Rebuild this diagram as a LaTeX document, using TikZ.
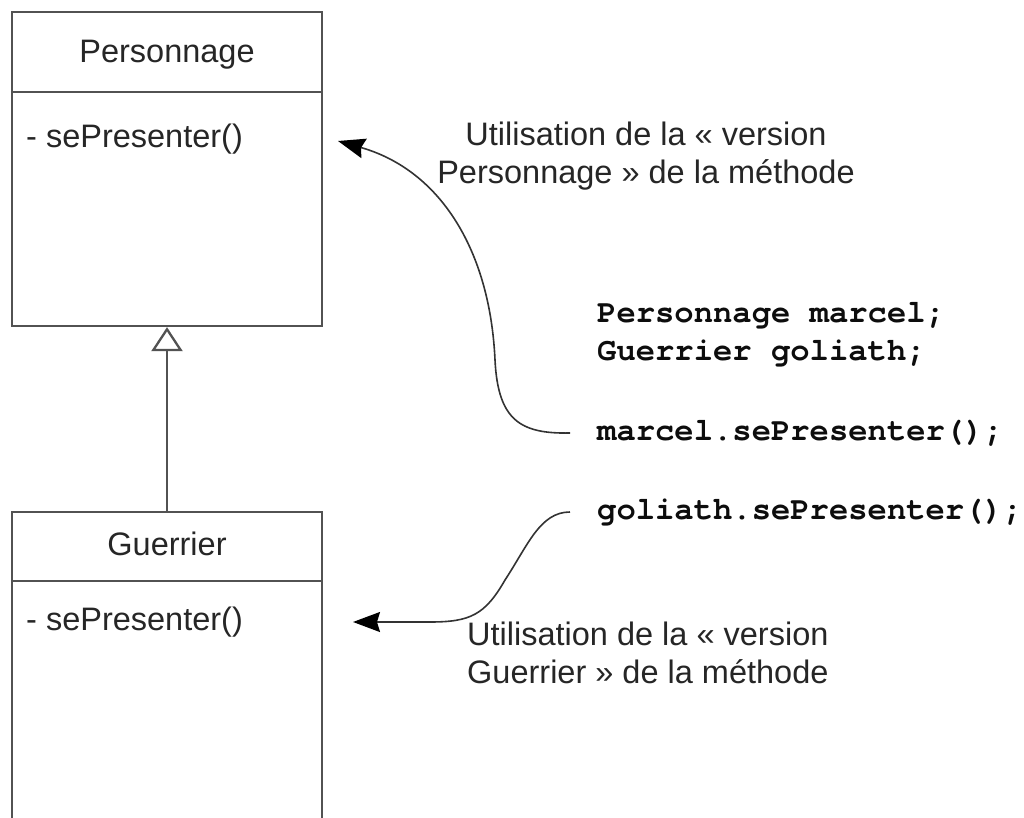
\documentclass[tikz,border=0pt]{standalone}
\usepackage{fontspec}
\setmainfont{Liberation Sans}
\setmonofont{texgyrecursor}[Extension=.otf, UprightFont=*-regular, BoldFont=*-bold]
\usetikzlibrary{arrows.meta}
\tikzset{
  classbox/.style={draw=black!68, line width=2.3pt, minimum width=310pt, inner sep=0pt},
  boxline/.style={draw=black!68, line width=2.3pt},
  sanstext/.style={inner sep=0pt, text=black!85, font=\fontsize{32.5}{38}\selectfont},
  codetext/.style={inner sep=0pt, text=black!95, align=left, font=\ttfamily\bfseries\fontsize{32.2}{38}\selectfont},
  inherit/.style={boxline, -{Triangle[open, length=24pt, width=31pt, fill=white]}},
  callarrow/.style={draw=black!80, line width=1.6pt, -{Stealth[length=27pt, width=20pt, inset=3pt, color=black, fill=black]}}
}
\begin{document}
\begin{tikzpicture}[x=1pt,y=-1pt]
\useasboundingbox (0,0) rectangle (1024,818);
\clip (0,0) rectangle (1024,818);

% Personnage class
\node[classbox, minimum height=314pt] (pbox) at (167,169) {};
\draw[boxline] (pbox.west |- 0,92) -- (pbox.east |- 0,92);
\node[sanstext, anchor=base] (pname) at (167,63) {Personnage};
\node[sanstext, anchor=base west] (pmeth) at (26,148) {- sePresenter()};

% Guerrier class (continues below the page)
\node[classbox, minimum height=340pt] (gbox) at (167,682) {};
\draw[boxline] (gbox.west |- 0,581) -- (gbox.east |- 0,581);
\node[sanstext, anchor=base] (gname) at (167,555) {Guerrier};
\node[sanstext, anchor=base west] (gmeth) at (26,630) {- sePresenter()};

% inheritance
\draw[inherit] (gbox.north) -- (pbox.south);

% code
\node[codetext, anchor=north west] (decl) at (597,302) {Personnage marcel;\\Guerrier goliath;};
\node[codetext, anchor=west] (call1) at (597,433) {marcel.sePresenter();};
\node[codetext, anchor=west] (call2) at (597,512) {goliath.sePresenter();};

% annotations
\node[sanstext, anchor=north, align=center] (note1) at (646,121.5)
  {Utilisation de la « version\\Personnage » de la méthode};
\node[sanstext, anchor=north west, align=left] (note2) at (467,621.5)
  {Utilisation de la « version\\Guerrier » de la méthode};

% arrows
\coordinate (tip1) at (338,141);
\coordinate (tip2) at (353,622);
\coordinate (s1) at ([xshift=-27pt]call1.west);
\coordinate (s2) at ([xshift=-27pt]call2.west);
\draw[callarrow] (s1) .. controls (520,434) and (498,420) .. (495,360)
  .. controls (490,250) and (440,170) .. (tip1);
\draw[callarrow] (s2) .. controls (540,512) and (528,545) .. (505,580)
  .. controls (485,615) and (470,622) .. (430,622) -- (tip2);
\end{tikzpicture}
\end{document}
